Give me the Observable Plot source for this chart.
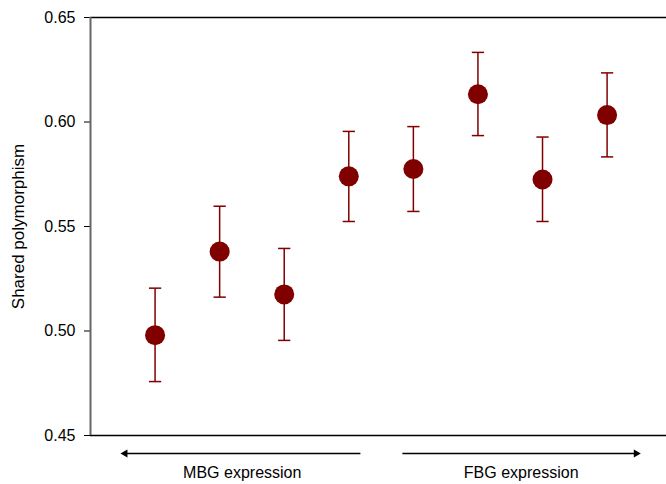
<!DOCTYPE html>
<html>
<head>
<meta charset="utf-8">
<script src="https://cdn.jsdelivr.net/npm/d3@7"></script>
<script src="https://cdn.jsdelivr.net/npm/@observablehq/plot@0.6"></script>
<style>
  html, body { margin: 0; padding: 0; background: #fff; overflow: hidden; }
  #chart svg { display: block; }
</style>
</head>
<body>
<div id="chart"></div>
<script>
// Data
const positions = [1, 2, 3, 4, 5, 6, 7, 8];
const means = [0.498, 0.538, 0.5175, 0.574, 0.5775, 0.6133, 0.5725, 0.6033];
const upper = [0.5205, 0.5597, 0.5395, 0.5955, 0.5978, 0.6333, 0.5928, 0.6235];
const lower = [0.4758, 0.5162, 0.4955, 0.5524, 0.5572, 0.5935, 0.5524, 0.5833];
const yTicks = [0.45, 0.50, 0.55, 0.60, 0.65];
const yLabel = "Shared polymorphism";
const groupLabels = ["MBG expression", "FBG expression"];
const arrowFrom = [4.18, 4.83];
const arrowTo = [0.536, 8.45];
const labelAt = [2.35, 6.67];
const arrowDir = [-90, 90];

const points = positions.map((p, i) => ({x: p, y: means[i], hi: upper[i], lo: lower[i]}));
const caps = points.flatMap(p => [{x: p.x, y: p.hi}, {x: p.x, y: p.lo}]);
const groups = groupLabels.map((g, i) => ({label: g, x1: arrowFrom[i], x2: arrowTo[i], xm: labelAt[i], rot: arrowDir[i], y: 0.45}));

const red = "#800000";
const font = "'Liberation Sans', Arial, Helvetica, sans-serif";

const chart = Plot.plot({
  width: 666,
  height: 484,
  marginLeft: 90,
  marginRight: 0,
  marginTop: 17,
  marginBottom: 49,
  style: {fontFamily: font, fontSize: "16px", color: "#000", background: "#fff", overflow: "visible"},
  x: {domain: [0, 8.92], axis: null},
  y: {domain: [0.45, 0.65], axis: null},
  marks: [
    Plot.axisY({ticks: yTicks, tickFormat: d3.format(".2f"), tickSize: 6, tickPadding: 9, fontSize: 16, label: null}),
    Plot.text([yLabel], {frameAnchor: "left", textAnchor: "middle", rotate: -90, dx: -72, text: d => d, fontSize: 17, fill: "#000"}),
    Plot.ruleY([0.45, 0.65], {stroke: "#000", strokeWidth: 1.3}),
    Plot.ruleX([0], {stroke: "#666", strokeWidth: 2}),
    Plot.link(points, {x1: "x", x2: "x", y1: "lo", y2: "hi", stroke: red, strokeWidth: 1.5}),
    Plot.link(caps, {x1: d => d.x - 0.095, x2: d => d.x + 0.095, y1: "y", y2: "y", stroke: red, strokeWidth: 1.5}),
    Plot.dot(points, {x: "x", y: "y", r: 10, fill: red}),
    Plot.link(groups, {x1: "x1", x2: "x2", y1: "y", y2: "y", dy: 18, stroke: "#000", strokeWidth: 1.3}),
    Plot.dot(groups, {x: "x2", y: "y", dy: 18, symbol: "triangle", r: 3, fill: "#000", rotate: "rot"}),
    Plot.text(groups, {x: "xm", y: "y", dy: 37, text: "label", fontSize: 16, fill: "#000"})
  ]
});
document.getElementById("chart").appendChild(chart);
</script>
</body>
</html>
